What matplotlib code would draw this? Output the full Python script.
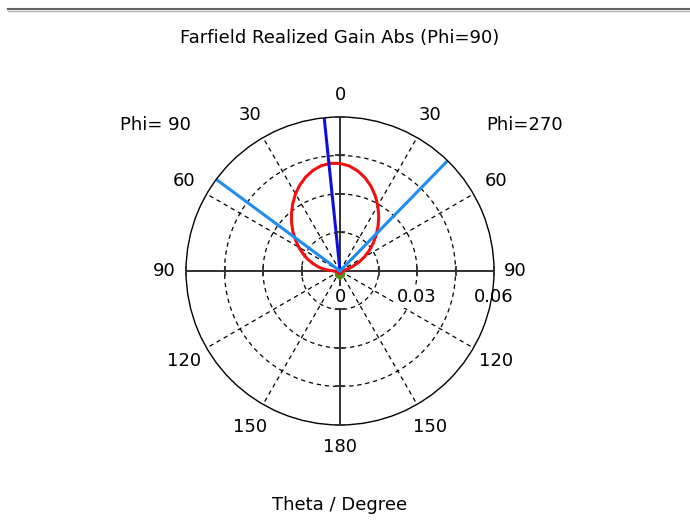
import numpy as np
import matplotlib
matplotlib.use("Agg")
import matplotlib.pyplot as plt
from matplotlib.lines import Line2D

# theta in degrees, negative = Phi=90 side (left), positive = Phi=270 side (right)
theta_deg = [-180, -170, -160, -150, -140, -130, -120, -110, -100, -90,
             -85, -80, -75, -70, -65, -60, -55, -50, -45, -40, -35, -30,
             -25, -20, -15, -10, -5, 0, 5, 10, 15, 20, 25, 30, 35, 40,
             45, 50, 55, 60, 65, 70, 75, 80, 85, 90,
             100, 110, 120, 130, 140, 150, 160, 170, 180]
gain_abs = [0.0008, 0.0008, 0.0008, 0.0009, 0.0010, 0.0010, 0.0009, 0.0008, 0.0012, 0.0025,
            0.0056, 0.0083, 0.0108, 0.0134, 0.0159, 0.0186, 0.0212, 0.0240, 0.0267, 0.0294,
            0.0321, 0.0347, 0.0370, 0.0390, 0.0406, 0.0417, 0.0421, 0.0419, 0.0411, 0.0396,
            0.0376, 0.0352, 0.0324, 0.0294, 0.0263, 0.0231, 0.0200, 0.0169, 0.0139, 0.0110,
            0.0082, 0.0053, 0.0034, 0.0018, 0.0012, 0.0010,
            0.0008, 0.0008, 0.0008, 0.0008, 0.0009, 0.0009, 0.0008, 0.0008, 0.0008]
green_deg = [-180, -150, -120, -90, -60, -30, 0, 30, 60, 90, 120, 150, 180]
green_r = [0.0024, 0.0022, 0.0015, 0.0008, 0.0004, 0.0003, 0.0003,
           0.0003, 0.0004, 0.0008, 0.0015, 0.0022, 0.0024]

main_lobe_dir = -5.9          # dark blue line
beam_3db = [-53.5, 44.3]      # light blue lines
r_max = 0.06
r_rings = [0.015, 0.03, 0.045]
theta_labels = ["0", "30", "60", "90", "120", "150", "180", "150", "120", "90", "60", "30"]
r_labels = {0.0: "0", 0.03: "0.03", 0.06: "0.06"}

plt.rcParams['font.family'] = ['DejaVu Sans']
fs = 13

fig = plt.figure(figsize=(6.9, 5.25), dpi=100)
fig.add_artist(Line2D([0.012, 1.0], [0.982, 0.982], color='#606060', lw=1.5))
fig.add_artist(Line2D([0.012, 1.0], [0.979, 0.979], color='#b0b0b0', lw=1.0))

ax = fig.add_axes([0.2696, 0.1905, 0.4464, 0.5867], projection='polar')
ax.set_theta_zero_location('N')
ax.set_theta_direction(-1)
ax.set_ylim(0, r_max)
ax.grid(False)
ax.set_xticks([])
ax.set_yticks([])
ax.spines['polar'].set_linewidth(1.0)
ax.spines['polar'].set_color('black')

full = np.linspace(0, 2 * np.pi, 361)
for rr in r_rings:
    ax.plot(full, [rr] * len(full), color='black', lw=0.9, ls=(0, (3.5, 3)))
for a in [30, 60, 120, 150, 210, 240, 300, 330]:
    t = np.deg2rad(a)
    ax.plot([t, t], [0, r_max], color='black', lw=0.9, ls=(0, (3.5, 3)))
for a in [0, 90, 180, 270]:
    t = np.deg2rad(a)
    ax.plot([t, t], [0, r_max], color='#303030', lw=1.4)
ticks_r = r_rings + [r_max]
for a, m in [(90, '|'), (270, '|'), (0, '_'), (180, '_')]:
    ax.plot([np.deg2rad(a)] * len(ticks_r), ticks_r, ls='none', marker=m,
            ms=7, mew=1.3, color='#303030', zorder=3, clip_on=False)

th = np.deg2rad(theta_deg)
ax.plot(np.deg2rad(green_deg), green_r, color='#5a8a1e', lw=3.0)
ax.plot(th, gain_abs, color='#f01010', lw=2.2)
ax.plot([np.deg2rad(main_lobe_dir)] * 2, [0, r_max], color='#1010d8', lw=2.2)
for b in beam_3db:
    ax.plot([np.deg2rad(b)] * 2, [0, r_max], color='#1e8cf0', lw=2.2)

for i, lab in enumerate(theta_labels):
    a = i * 30
    dist = 1.14 if a in (0, 90, 180, 270) else 1.17
    ax.text(np.deg2rad(a), r_max * dist, lab, ha='center', va='center',
            fontsize=fs, clip_on=False)

for rv, lab in r_labels.items():
    box = dict(facecolor='white', edgecolor='none', pad=1.5) if rv < r_max else None
    ax.annotate(lab, xy=(np.deg2rad(90), rv), xytext=(0, -26),
                textcoords='offset pixels', ha='center', va='center', fontsize=fs,
                annotation_clip=False, bbox=box)

fig.text(155 / 690, 1 - 125 / 525, "Phi= 90", ha='center', va='center', fontsize=fs)
fig.text(525 / 690, 1 - 125 / 525, "Phi=270", ha='center', va='center', fontsize=fs)
fig.text(340 / 690, 1 - 38 / 525, "Farfield Realized Gain Abs (Phi=90)",
         ha='center', va='center', fontsize=fs)
fig.text(340 / 690, 1 - 505 / 525, "Theta / Degree", ha='center', va='center', fontsize=fs)

fig.savefig("out.png", dpi=100)
